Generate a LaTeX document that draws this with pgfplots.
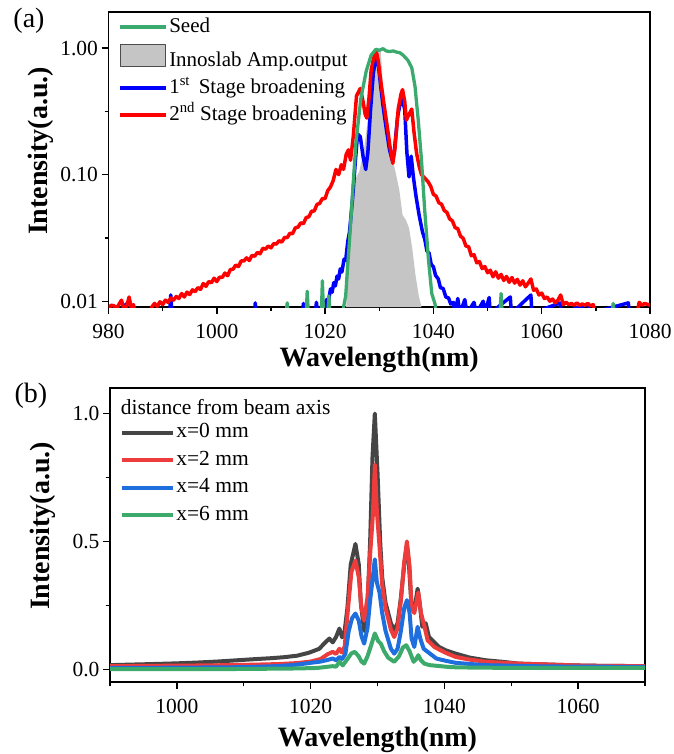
\documentclass[border=0pt]{standalone}
\usepackage{fontspec}
\setmainfont{Liberation Serif}
\usepackage{pgfplots}
\pgfplotsset{compat=1.18}
\definecolor{seedgreen}{HTML}{3BAA6E}
\definecolor{innogray}{HTML}{C5C5C5}
\definecolor{bBlack}{HTML}{454545}
\definecolor{bRed}{HTML}{EE3B3B}
\definecolor{bBlue}{HTML}{1E6FDD}
\definecolor{bGreen}{HTML}{3CAA6A}
\pgfplotsset{myax/.style={scale only axis,
  axis line style={line width=1.6pt},
  every tick/.style={line width=1.4pt, black},
  tick align=outside, xtick pos=bottom, ytick pos=left,
  major tick length=7pt, minor tick length=4pt,
  tick label style={font=\fontsize{21.5}{25}\selectfont},
  xticklabel style={yshift=-7pt},
  /pgf/number format/assume math mode=true,
  /pgf/number format/1000 sep={},
  label style={font=\bfseries\fontsize{28}{32}\selectfont},
  every axis plot/.append style={line join=round, line cap=round},
  legend cell align=left,
  legend image code/.code={\draw[##1, line cap=butt] (0pt,0pt) -- (46pt,0pt);},
}}
\begin{document}
\begin{tikzpicture}
\useasboundingbox (0,0) rectangle (673pt,-754pt);
% ---------------- panel (a) ----------------
\begin{axis}[myax, at={(108.5pt,-307pt)}, anchor=south west,
  width=541.5pt, height=295pt,
  xmin=980, xmax=1080, ymode=log, ymin=0.009, ymax=1.93,
  xtick={980,1000,...,1080}, minor xtick={990,1010,...,1070},
  ytick={0.01,0.1,1}, yticklabels={0.01,0.10,1.00},
  minor ytick={0.0316,0.316},
  xlabel={Wavelength(nm)}, ylabel={Intensity(a.u.)},
  xlabel style={at={(axis description cs:0.5,-0.18)}, anchor=center},
  ylabel style={at={(axis description cs:-0.1256,0.529)}, anchor=center},
  legend style={at={(axis description cs:0.018,0.985)}, anchor=north west,
    draw=none, fill=none, inner sep=0pt,
    font=\fontsize{21}{25}\selectfont, row sep=6pt,
    nodes={inner sep=1.5pt, text height=14pt, text depth=4pt}},
]
\addlegendimage{seedgreen, line width=3.3pt}
\addlegendentry{Seed}
\addlegendimage{legend image code/.code={\draw[fill=innogray, draw=black!70, line width=0.9pt] (0pt,-5pt) rectangle (45pt,17pt);}}
\addlegendentry{Innoslab Amp.output}
\addlegendimage{blue, line width=3.3pt}
\addlegendentry{1\textsuperscript{st}\, Stage broadening}
\addlegendimage{red, line width=3.3pt}
\addlegendentry{2\textsuperscript{nd} Stage broadening}
% Innoslab output (filled)
\addplot[forget plot, fill=innogray, draw=none] coordinates {
(1023.9,0.009)(1024.1,0.02)(1024.5,0.045)(1024.8,0.067)(1025.4,0.09)(1026.3,0.105)
(1027.2,0.16)(1028.1,0.32)(1028.7,0.53)(1029.3,0.78)(1029.9,0.93)(1030.3,0.93)
(1030.7,0.50)(1031.3,0.28)(1031.9,0.17)(1032.8,0.115)(1033.7,0.076)(1034.3,0.048)
(1034.9,0.044)(1035.5,0.038)(1036.1,0.026)(1036.7,0.016)(1037.3,0.011)(1037.8,0.009)
} -- cycle;
% 1st stage (blue)
\addplot[forget plot, blue, line width=3.5pt] coordinates {
(980,0.008)(983,0.008)(983.2,0.0095)(983.4,0.008)(991.3,0.008)(991.5,0.0112)(991.7,0.008)
(1007,0.008)(1007.1,0.0097)(1007.3,0.008)(1015.8,0.008)(1016,0.0096)(1016.2,0.008)
(1018.2,0.008)(1018.4,0.0098)(1018.6,0.008)(1019.8,0.008)(1020.2,0.0102)(1020.7,0.0105)
(1021.0,0.0125)(1021.3,0.0118)(1021.6,0.0140)(1021.9,0.0132)(1022.2,0.0158)(1022.5,0.0150)
(1022.8,0.0180)(1023.1,0.0170)(1023.5,0.0215)(1023.8,0.021)(1024.2,0.030)(1024.5,0.035)
(1025.1,0.067)(1025.6,0.13)(1026.0,0.21)(1026.5,0.20)(1027.0,0.14)(1027.5,0.11)
(1027.9,0.15)(1028.4,0.33)(1028.9,0.63)(1029.4,0.86)(1029.8,0.76)(1030.2,0.53)
(1030.7,0.35)(1031.3,0.23)(1031.9,0.157)(1032.4,0.13)(1032.8,0.157)(1033.4,0.29)
(1034.1,0.41)(1034.7,0.33)(1035.1,0.15)(1035.5,0.096)(1035.9,0.14)(1036.3,0.096)
(1036.8,0.067)(1037.4,0.047)(1038.0,0.035)(1038.4,0.031)(1038.8,0.025)(1039.2,0.024)
(1039.6,0.0195)(1040.0,0.0187)(1040.4,0.0160)(1040.9,0.0150)(1041.3,0.0128)(1041.8,0.0126)
(1042.3,0.0108)(1042.8,0.0106)(1043.2,0.0095)(1043.7,0.0098)(1044.0,0.008)(1044.5,0.0105)(1044.9,0.008)
(1045.8,0.0103)(1046.2,0.008)(1047.5,0.0098)(1047.9,0.008)(1049.2,0.01)(1049.5,0.008)
(1050.3,0.0107)(1050.5,0.008)(1054.2,0.0108)(1054.4,0.008)(1058.0,0.0112)(1058.2,0.008)
(1063.4,0.0097)(1063.6,0.008)(1068.6,0.0095)(1068.8,0.008)(1076.0,0.0097)(1076.2,0.008)(1080,0.008)
};
% 2nd stage (red)
\addplot[forget plot, red, line width=3.5pt] coordinates {
(980,0.0088)(980.5,0.0093)(981,0.0092)(981.5,0.0088)(982.4,0.0102)(982.8,0.0087)
(983.4,0.0092)(983.8,0.0108)(984.2,0.0089)(984.6,0.0094)(985,0.008)(987.8,0.008)
(988,0.0090)(988.5,0.0096)(989,0.0091)(989.5,0.0099)(990,0.0094)(990.5,0.0102)
(991,0.0098)(991.5,0.0106)(992,0.0102)(992.5,0.0109)(993,0.0105)(993.5,0.0115)
(994,0.0108)(994.5,0.0118)(995,0.0113)(995.5,0.0123)(996,0.0119)(996.5,0.0128)
(997,0.0124)(997.5,0.0138)(998,0.0131)(998.5,0.0143)(999,0.0140)(999.5,0.0152)
(1000,0.0143)(1000.5,0.0155)(1001,0.0154)(1001.5,0.0167)(1002,0.0159)(1002.5,0.0178)
(1003,0.0179)(1003.5,0.0193)(1004,0.0188)(1004.5,0.0208)(1005,0.0208)(1005.5,0.0220)
(1006,0.0210)(1006.5,0.0230)(1007,0.0227)(1007.5,0.0243)(1008,0.0237)(1008.5,0.0262)
(1009,0.0258)(1009.5,0.0273)(1010,0.0264)(1010.5,0.0285)(1011,0.0283)(1011.5,0.0301)
(1012,0.0293)(1012.5,0.0319)(1013,0.0318)(1013.5,0.0344)(1014,0.0342)(1014.5,0.0380)
(1015,0.0385)(1015.5,0.0416)(1016,0.0410)(1016.5,0.0458)(1017,0.0465)(1017.5,0.0514)
(1018,0.0517)(1018.5,0.0582)(1019,0.0593)(1019.5,0.0648)(1020,0.0648)(1020.5,0.0750)
(1021.0,0.080)(1021.5,0.09)(1022.0,0.11)(1022.5,0.10)(1023.0,0.12)
(1023.4,0.11)(1023.9,0.145)(1024.3,0.157)(1024.7,0.13)(1025.2,0.2)(1025.8,0.42)
(1026.5,0.48)(1027.0,0.38)(1027.4,0.30)(1027.7,0.28)(1028.1,0.40)(1028.5,0.67)
(1029.0,0.85)(1029.4,0.97)(1029.8,0.80)(1030.2,0.58)(1031.0,0.33)(1031.6,0.22)
(1032.0,0.165)(1032.5,0.123)(1032.9,0.16)(1033.5,0.33)(1034.0,0.43)(1034.3,0.47)
(1034.7,0.38)(1035.0,0.27)(1035.5,0.30)(1036.0,0.33)(1036.4,0.22)(1036.9,0.147)
(1037.4,0.115)(1037.8,0.100)(1038.4,0.094)(1039,0.088)(1039.5,0.081)(1040,0.070)
(1040.5,0.0676)(1041,0.0600)(1041.5,0.0585)(1042,0.0521)(1042.5,0.0503)(1043,0.0447)
(1043.5,0.0432)(1044,0.0382)(1044.5,0.0374)(1045,0.0327)(1045.5,0.0314)(1046,0.0273)
(1046.5,0.0270)(1047,0.0229)(1047.5,0.0233)(1048,0.0201)(1048.5,0.0206)(1049,0.0181)
(1049.5,0.0188)(1050,0.0168)(1050.5,0.0176)(1051,0.0156)(1051.5,0.0171)(1052,0.0152)
(1052.5,0.0163)(1053,0.0146)(1053.5,0.0157)(1054,0.0141)(1054.5,0.0154)(1055,0.0139)
(1055.5,0.0149)(1056,0.0134)(1056.5,0.0145)(1057,0.0130)(1057.5,0.0139)(1058,0.0150)
(1058.5,0.0122)(1059,0.0125)(1059.5,0.0112)(1060,0.0116)(1060.5,0.0105)(1061,0.0108)
(1061.5,0.0100)(1062,0.0104)(1062.5,0.0097)(1063,0.0102)(1063.5,0.0112)(1064,0.0094)
(1064.5,0.0098)(1065,0.0094)(1065.5,0.0096)(1066,0.0093)(1066.5,0.0097)(1067,0.0093)
(1067.5,0.0095)(1068,0.0093)(1068.5,0.0096)(1069,0.0092)(1069.5,0.0094)(1070,0.008)
(1077.6,0.008)(1078,0.0098)(1078.5,0.0093)(1079,0.0096)(1080,0.0093)
};
% Seed (green)
\addplot[forget plot, seedgreen, line width=3.3pt] coordinates {
(980,0.008)(1012.8,0.008)(1013,0.0097)(1013.2,0.008)(1016.5,0.008)(1016.7,0.012)
(1016.9,0.008)(1019.3,0.008)(1019.5,0.0145)(1019.7,0.008)(1020.5,0.008)(1020.7,0.011)
(1020.9,0.008)(1023.3,0.0085)(1023.8,0.011)(1024.2,0.02)(1024.5,0.03)(1025.1,0.075)
(1025.7,0.18)(1026.6,0.40)(1027.6,0.66)(1028.5,0.88)(1029.4,0.98)(1030.0,0.96)
(1030.7,0.99)(1031.3,0.95)(1031.9,0.94)(1032.6,0.95)(1033.2,0.93)(1033.8,0.92)
(1034.4,0.88)(1035.3,0.80)(1036.0,0.70)(1036.6,0.50)(1037.2,0.27)(1037.8,0.13)
(1038.4,0.052)(1039.1,0.021)(1039.7,0.0115)(1040.3,0.0095)(1040.5,0.008)
(1052.3,0.008)(1052.5,0.0115)(1052.7,0.008)(1073,0.008)(1073.2,0.0096)(1073.4,0.008)(1080,0.008)
};
\end{axis}
\node[font=\fontsize{28}{32}\selectfont] at (29pt,-21pt) {(a)};
% ---------------- panel (b) ----------------
\begin{axis}[myax, at={(110pt,-682pt)}, anchor=south west,
  width=535pt, height=294pt,
  xmin=990, xmax=1070, ymin=-0.05, ymax=1.1,
  xtick={1000,1020,...,1060}, minor xtick={990,1010,...,1070},
  ytick={0,0.5,1}, yticklabels={0.0,0.5,1.0},
  minor ytick={0.25,0.75},
  xlabel={Wavelength(nm)}, ylabel={Intensity(a.u.)},
  xlabel style={at={(axis description cs:0.5,-0.197)}, anchor=center},
  ylabel style={at={(axis description cs:-0.1256,0.531)}, anchor=center},
  legend style={at={(axis description cs:0.018,0.885)}, anchor=north west,
    draw=none, fill=none, inner sep=0pt,
    font=\fontsize{21.5}{25}\selectfont, row sep=6.5pt,
    nodes={inner sep=1.5pt, text height=14pt, text depth=4pt}},
  legend image code/.code={\draw[#1, line cap=butt] (0pt,0pt) -- (51pt,0pt);},
]
\addplot[bBlack, line width=4pt] coordinates {
(990,0.016)(993,0.018)(996,0.02)(1000,0.023)(1003,0.026)(1006,0.03)(1009,0.035)
(1012,0.04)(1014,0.043)(1016,0.047)(1018,0.053)(1019.8,0.065)(1021.3,0.08)(1022,0.10)
(1022.8,0.12)(1023.3,0.105)(1023.8,0.126)(1024.3,0.159)(1024.7,0.125)(1025.0,0.13)
(1025.5,0.24)(1026.0,0.41)(1026.7,0.49)(1027.2,0.41)(1027.5,0.26)(1028.0,0.15)
(1028.5,0.24)(1028.9,0.50)(1029.25,0.83)(1029.6,1.0)(1030.0,0.77)(1030.4,0.50)
(1030.7,0.36)(1031.2,0.26)(1032.0,0.18)(1032.5,0.153)(1033.0,0.18)(1033.5,0.28)
(1034.0,0.41)(1034.4,0.48)(1034.7,0.41)(1035.1,0.24)(1035.5,0.23)(1036.0,0.315)
(1036.3,0.26)(1036.7,0.166)(1037.2,0.18)(1037.7,0.126)(1038.7,0.10)(1039.2,0.087)
(1040.2,0.074)(1041.7,0.061)(1043.7,0.046)(1046.2,0.035)(1048.7,0.029)(1051.1,0.022)
(1056,0.018)(1061,0.014)(1065,0.013)(1070,0.012)
};
\addlegendentry{x=0 mm}
\addplot[bRed, line width=4pt] coordinates {
(990,0.012)(995,0.013)(1000,0.014)(1005,0.015)(1010,0.017)(1015,0.02)(1018,0.024)
(1020,0.03)(1021.5,0.04)(1022.5,0.058)(1023.3,0.068)(1023.8,0.06)(1024.3,0.08)
(1024.7,0.065)(1025.1,0.09)(1025.6,0.24)(1026.1,0.38)(1026.7,0.425)(1027.2,0.36)
(1027.6,0.24)(1028.0,0.19)(1028.5,0.28)(1028.9,0.45)(1029.3,0.60)(1029.6,0.80)
(1029.9,0.62)(1030.3,0.48)(1030.7,0.33)(1031.2,0.24)(1032.0,0.155)(1032.5,0.126)
(1033.0,0.16)(1033.5,0.27)(1034.0,0.42)(1034.4,0.50)(1034.8,0.40)(1035.1,0.24)
(1035.5,0.22)(1036.1,0.30)(1036.5,0.22)(1037.0,0.17)(1037.5,0.113)(1038.5,0.087)
(1040.2,0.064)(1041.7,0.048)(1043.7,0.038)(1046.2,0.029)(1051,0.022)(1056,0.018)
(1061,0.014)(1070,0.012)
};
\addlegendentry{x=2 mm}
\addplot[bBlue, line width=4pt] coordinates {
(990,0.005)(1000,0.006)(1010,0.008)(1015,0.012)(1018,0.018)(1020,0.025)(1021.5,0.03)
(1022.5,0.036)(1023.3,0.042)(1023.8,0.035)(1024.3,0.048)(1024.7,0.04)(1025.2,0.06)
(1025.7,0.15)(1026.2,0.2)(1026.7,0.218)(1027.2,0.19)(1027.6,0.13)(1028.0,0.10)
(1028.5,0.16)(1028.9,0.27)(1029.3,0.36)(1029.6,0.43)(1029.9,0.34)(1030.3,0.30)
(1030.7,0.22)(1031.2,0.15)(1032.0,0.08)(1032.5,0.061)(1033.0,0.08)(1033.5,0.15)
(1034.0,0.24)(1034.4,0.27)(1034.8,0.22)(1035.1,0.12)(1035.5,0.087)(1036.0,0.166)
(1036.4,0.12)(1036.9,0.08)(1037.5,0.068)(1038.8,0.042)(1040.2,0.033)(1041.7,0.025)
(1046,0.016)(1055,0.011)(1070,0.009)
};
\addlegendentry{x=4 mm}
\addplot[bGreen, line width=4pt] coordinates {
(990,0.0)(1000,0.0)(1010,0.001)(1018,0.003)(1021,0.005)(1023.3,0.012)(1023.8,0.01)
(1024.3,0.029)(1024.8,0.015)(1025.5,0.04)(1026.1,0.062)(1026.6,0.068)(1027.2,0.05)
(1027.6,0.03)(1028.0,0.022)(1028.5,0.05)(1029.0,0.09)(1029.6,0.14)(1030.1,0.11)
(1030.5,0.10)(1031.0,0.07)(1031.6,0.045)(1032.5,0.029)(1033.2,0.05)(1033.8,0.085)
(1034.3,0.094)(1034.8,0.07)(1035.4,0.029)(1035.8,0.04)(1036.1,0.055)(1036.5,0.035)
(1037.0,0.022)(1037.8,0.016)(1039,0.013)(1041,0.008)(1045,0.006)(1055,0.005)(1070,0.005)
};
\addlegendentry{x=6 mm}
\node[anchor=west, font=\fontsize{21.5}{25}\selectfont, inner sep=0pt] at (axis description cs:0.02,0.936) {distance from beam axis};
\end{axis}
\node[font=\fontsize{28}{32}\selectfont] at (31pt,-396pt) {(b)};
\end{tikzpicture}
\end{document}
